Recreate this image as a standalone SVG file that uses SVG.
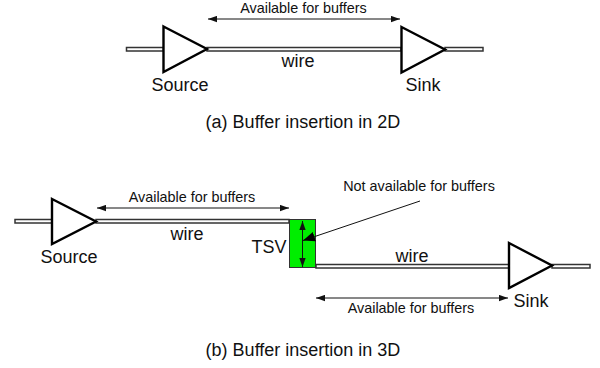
<svg xmlns="http://www.w3.org/2000/svg" width="600" height="368" viewBox="0 0 600 368">
<style>
text{font-family:"Liberation Sans",Arial,sans-serif;fill:#111;text-anchor:middle}
.s{font-size:14.4px}.c{font-size:18px}
.wire{fill:#fff;stroke:#333;stroke-width:1.5}
.tri{fill:#fff;stroke:#000;stroke-width:2.4}
.ar{fill:none;stroke:#111;stroke-width:1;marker-start:url(#h);marker-end:url(#h)}
</style>
<defs><marker id="h" viewBox="0 0 10 7" refX="10" refY="3.500" markerUnits="userSpaceOnUse" markerWidth="9" markerHeight="7" orient="auto-start-reverse"><path d="M0 0L10 3.500L0 7z" fill="#111"/></marker>
<marker id="k" viewBox="0 0 10 8" refX="10" refY="4" markerUnits="userSpaceOnUse" markerWidth="12" markerHeight="10" orient="auto"><path d="M0 0L10 4L0 8z" fill="#000"/></marker></defs>
<g id="connectors">
<rect class="wire" x="126.500" y="47.500" width="37" height="3.500"/>
<rect class="wire" x="207" y="47.500" width="194" height="3.500"/>
<rect class="wire" x="445" y="47.500" width="38" height="3.500"/>
<rect class="wire" x="15" y="219.500" width="37" height="3.500"/>
<rect class="wire" x="96" y="219.500" width="193" height="3.500"/>
<rect class="wire" x="316" y="264.500" width="193" height="3.500"/>
<rect class="wire" x="552" y="264.500" width="38" height="3.500"/>
<line class="ar" x1="208" y1="19" x2="400" y2="19"/>
<line class="ar" x1="97" y1="208" x2="289" y2="208"/>
<line class="ar" x1="316" y1="298" x2="508" y2="298"/>
</g>
<g id="source-a"><path class="tri" d="M163.500 26.500L207 49L163.500 72z"/><text class="c" x="180" y="91">Source</text></g>
<g id="sink-a"><path class="tri" d="M401.500 27L445 49.500L401.500 72.500z"/><text class="c" x="423" y="91">Sink</text></g>
<g id="source-b"><path class="tri" d="M52 199L96 221.500L52 244z"/><text class="c" x="69" y="263">Source</text></g>
<g id="sink-b"><path class="tri" d="M509 243L552 265.500L509 288z"/><text class="c" x="531" y="307">Sink</text></g>
<g id="tsv"><rect x="289.500" y="219.500" width="26" height="48" fill="#00ee00" stroke="#333" stroke-width="1"/>
<line class="ar" x1="302.500" y1="221" x2="302.500" y2="267"/>
<line x1="420" y1="201" x2="303" y2="240.500" stroke="#111" stroke-width="1" marker-end="url(#k)"/>
<text class="c" x="269" y="253">TSV</text></g>
<g id="labels">
<text class="s" x="303.500" y="13">Available for buffers</text>
<text class="c" x="298" y="67">wire</text>
<text class="c" x="303" y="128">(a) Buffer insertion in 2D</text>
<text class="s" x="192" y="202">Available for buffers</text>
<text class="c" x="187" y="240">wire</text>
<text class="s" x="419" y="191">Not available for buffers</text>
<text class="c" x="412" y="262">wire</text>
<text class="s" x="411" y="313">Available for buffers</text>
<text class="c" x="303" y="356">(b) Buffer insertion in 3D</text>
</g>
</svg>
